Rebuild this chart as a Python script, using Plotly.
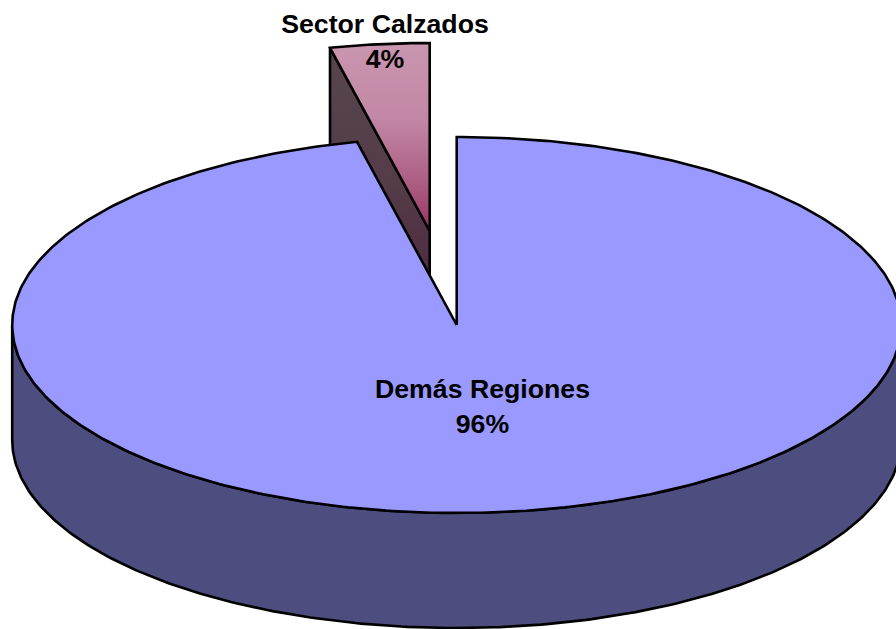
import numpy as np
import plotly.graph_objects as go

# Data
categories = ["Demás Regiones", "Sector Calzados"]
values = [96.4, 3.6]

# Pie geometry (pixels of the 896x629 page)
W, H = 896, 629
CX, CY = 456.7, 325.0
RX, RY = 444.5, 188.0
DEPTH = 115.0
EXPLODE_X, EXPLODE_Y = -27.0, -94.0
OUTLINE = dict(color="#000000", width=2.6)

total = sum(values)
main_sweep = 2 * np.pi * values[0] / total


def rim(theta, cx=CX, cy=CY):
    """Point on the ellipse; theta runs clockwise from twelve o'clock."""
    return cx + RX * np.sin(theta), cy - RY * np.cos(theta)


fig = go.Figure()

# Exploded slice: angles from the end of the main slice round to the top
ex_cx, ex_cy = CX + EXPLODE_X, CY + EXPLODE_Y
t_slice = np.linspace(main_sweep, 2 * np.pi, 40)
sx, sy = rim(t_slice, ex_cx, ex_cy)

# wall of the exploded slice (cut face toward the viewer)
wx = [sx[0], ex_cx, ex_cx, sx[0], sx[0]]
wy = [sy[0], ex_cy, ex_cy + DEPTH, sy[0] + DEPTH, sy[0]]
fig.add_trace(go.Scatter(
    x=wx, y=wy, mode="lines", fill="toself", line=OUTLINE,
    fillgradient=dict(type="vertical", start=47, stop=345,
                      colorscale=[[0, "#57464e"], [0.45, "#543c48"], [0.8, "#4f2a42"], [1, "#4f2a42"]]),
    hoverinfo="skip", showlegend=False))

# top face of the exploded slice
fig.add_trace(go.Scatter(
    x=np.r_[ex_cx, sx, ex_cx], y=np.r_[ex_cy, sy, ex_cy],
    mode="lines", fill="toself", line=OUTLINE,
    fillgradient=dict(type="vertical", start=43, stop=232,
                      colorscale=[[0, "#ca96af"], [0.4, "#c287a4"], [0.75, "#ab5c82"], [1, "#993366"]]),
    hoverinfo="skip", showlegend=False))

# Front side of the main slice
t_front = np.linspace(np.pi / 2, 3 * np.pi / 2, 240)
fx, fy = rim(t_front)
fig.add_trace(go.Scatter(
    x=np.r_[fx, fx[::-1], fx[0]], y=np.r_[fy, fy[::-1] + DEPTH, fy[0]],
    mode="lines", fill="toself", fillcolor="#4d4d7f", line=OUTLINE,
    hoverinfo="skip", showlegend=False))

# Top face of the main slice
t_main = np.linspace(0, main_sweep, 480)
mx, my = rim(t_main)
fig.add_trace(go.Scatter(
    x=np.r_[CX, mx, CX], y=np.r_[CY, my, CY],
    mode="lines", fill="toself", fillcolor="#9999ff", line=OUTLINE,
    hoverinfo="skip", showlegend=False))

# Labels
label_x = [482.5, 385]
label_y = [408.5, 43.5]
labels = [f"{c}<br>{round(v)}%" for c, v in zip(categories, values)]
fig.add_trace(go.Scatter(
    x=label_x, y=label_y, mode="text", text=labels, textposition="middle center",
    textfont=dict(family="Liberation Sans", size=26.7, color="#000000", weight="bold"),
    hoverinfo="skip", showlegend=False))

fig.update_layout(
    width=W, height=H, margin=dict(l=0, r=0, t=0, b=0),
    paper_bgcolor="#ffffff", plot_bgcolor="#ffffff",
    xaxis=dict(range=[0, W], visible=False, fixedrange=True),
    yaxis=dict(range=[H, 0], visible=False, fixedrange=True),
)
fig.write_html(
    "out.html",
    config={"displayModeBar": False},
    post_script="document.documentElement.style.overflow='hidden';document.body.style.margin='0';",
)
